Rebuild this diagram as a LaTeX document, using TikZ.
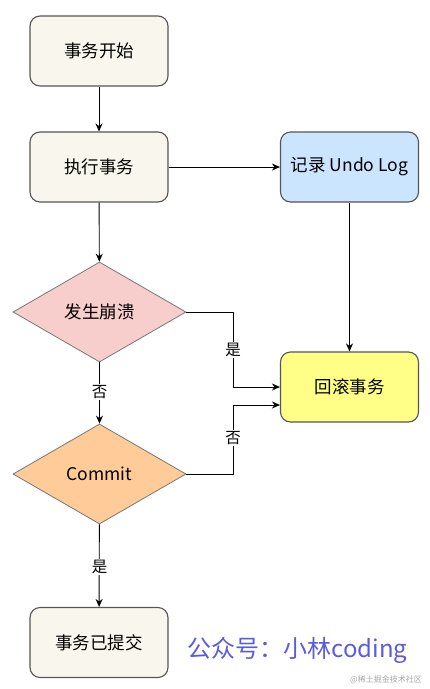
\documentclass[tikz,border=0pt]{standalone}
\usepackage{fontspec}
\setmainfont{Noto Sans CJK SC}
\usetikzlibrary{shapes.geometric,arrows.meta}
\definecolor{beige}{HTML}{F9F7ED}
\definecolor{bluefill}{HTML}{CCE5FF}
\definecolor{pinkfill}{HTML}{F8CECC}
\definecolor{orangefill}{HTML}{FFCC99}
\definecolor{yellowfill}{HTML}{FFFF88}
\definecolor{edge}{HTML}{555555}
\definecolor{brand}{HTML}{5B5BDC}
\begin{document}
\begin{tikzpicture}[x=1pt,y=-1pt,
  box/.style={draw=edge, line width=1.1pt, rounded corners=10pt, minimum width=138pt, minimum height=70pt, inner sep=0pt, font=\fontsize{17.5}{20}\selectfont},
  dia/.style={diamond, draw=edge!80, line width=0.8pt, minimum width=173pt, minimum height=100pt, inner sep=0pt, font=\fontsize{17.5}{20}\selectfont},
  conn/.style={draw=black, line width=0.9pt, -{Stealth[length=8pt,width=7pt]}},
  lbl/.style={fill=white, inner sep=1.5pt, font=\fontsize{15.5}{17}\selectfont}]
\useasboundingbox (0,0) rectangle (429,689);
\node[box, fill=beige] (start) at (99,51) {事务开始};
\node[box, fill=beige] (exec) at (99,167) {执行事务};
\node[box, fill=bluefill] (undo) at (349.5,167) {记录 Undo Log};
\node[dia, fill=pinkfill] (crash) at (99.5,312) {发生崩溃};
\node[box, fill=yellowfill] (rollback) at (349.5,387) {回滚事务};
\node[dia, fill=orangefill] (commit) at (99.5,474) {Commit};
\node[box, fill=beige] (done) at (99,642.5) {事务已提交};
\coordinate (crashturn) at (233,312);
\coordinate (committurn) at (233,474);
\draw[conn] (start) -- (exec);
\draw[conn] (exec) -- (crash);
\draw[conn] (exec) -- (undo);
\draw[conn] (undo) -- (rollback);
\draw[conn] (crash.east) -- (crashturn) |- (rollback.west);
\draw[conn] (commit.east) -- (committurn) |- ([yshift=-18pt]rollback.west);
\draw[conn] (crash) -- (commit);
\draw[conn] (commit) -- (done);
\node[lbl] (yes1) at (233,350) {是};
\node[lbl] (no1) at (233,438) {否};
\node[lbl] (no2) at (99.5,392) {否};
\node[lbl] (yes2) at (99.5,567) {是};
\node[text=brand, font=\fontsize{24}{27}\selectfont, inner sep=0pt] (brandtxt) at (297.5,650) {公众号：小林coding};
\node[text=black!35, font=\fontsize{8}{9}\selectfont, inner sep=0pt] (wm) at (386,680) {@稀土掘金技术社区};
\end{tikzpicture}
\end{document}
